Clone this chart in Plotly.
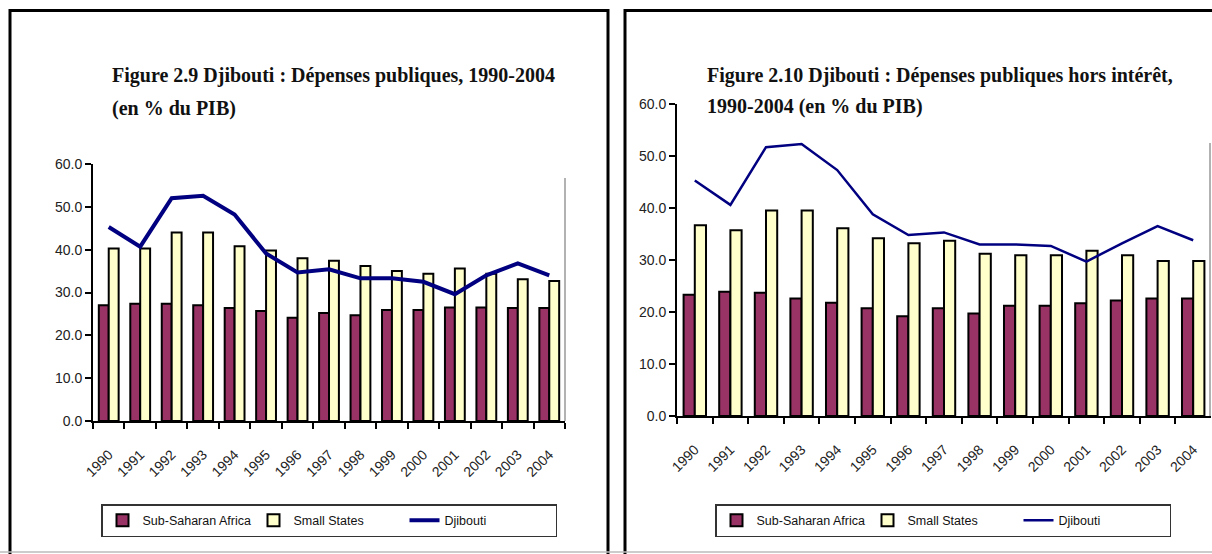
import plotly.graph_objects as go

years = [str(y) for y in range(1990, 2005)]

# Figure 2.9 : total public expenditure (% of GDP)
ssa_total = [27.0, 27.4, 27.4, 27.0, 26.4, 25.7, 24.1, 25.2, 24.7, 25.9, 25.9, 26.5, 26.5, 26.4, 26.4]
ss_total = [40.3, 40.3, 44.0, 44.0, 40.8, 39.8, 38.0, 37.4, 36.2, 35.0, 34.4, 35.6, 34.4, 33.1, 32.7]
dj_total = [45.3, 40.7, 52.0, 52.6, 48.2, 39.1, 34.7, 35.4, 33.3, 33.3, 32.5, 29.6, 34.0, 36.8, 34.0]

# Figure 2.10 : non-interest public expenditure (% of GDP)
ssa_nonint = [23.3, 23.9, 23.7, 22.6, 21.8, 20.7, 19.2, 20.7, 19.7, 21.2, 21.2, 21.7, 22.2, 22.6, 22.6]
ss_nonint = [36.7, 35.7, 39.5, 39.5, 36.1, 34.2, 33.2, 33.7, 31.2, 30.9, 30.9, 31.8, 30.9, 29.8, 29.8]
dj_nonint = [45.3, 40.6, 51.7, 52.3, 47.3, 38.8, 34.8, 35.3, 33.0, 33.0, 32.7, 29.7, 33.2, 36.5, 33.8]

yticks = [0, 10, 20, 30, 40, 50, 60]

W, H = 1212, 554
NARROW = "Liberation Sans Narrow, Arial Narrow, Liberation Sans, Arial, sans-serif"
SERIF = "Liberation Serif, Times New Roman, serif"
MAROON = "#993366"
CREAM = "#FFFFCC"
NAVY = "#000080"

def px(x):
    return x / W

def py(y):
    return 1 - y / H

fig = go.Figure()

def add_panel(ssa, ss, dj, xa, ya, leg, lw):
    fig.add_trace(go.Bar(x=years, y=ssa, name="Sub-Saharan Africa", xaxis=xa, yaxis=ya,
                         marker=dict(color=MAROON, line=dict(color="black", width=2)),
                         legend=leg))
    fig.add_trace(go.Bar(x=years, y=ss, name="Small States", xaxis=xa, yaxis=ya,
                         marker=dict(color=CREAM, line=dict(color="black", width=2)),
                         legend=leg))
    fig.add_trace(go.Scatter(x=years, y=dj, name="Djibouti", mode="lines", xaxis=xa, yaxis=ya,
                             line=dict(color=NAVY, width=lw), legend=leg))

add_panel(ssa_total, ss_total, dj_total, "x", "y", "legend", 4)
add_panel(ssa_nonint, ss_nonint, dj_nonint, "x2", "y2", "legend2", 2.5)

xcommon = dict(type="category", tickson="boundaries", ticks="outside", ticklen=6,
               tickcolor="black", tickwidth=1.5, showline=True, linecolor="black",
               linewidth=2, tickangle=-45, ticklabelstandoff=18, automargin=False,
               tickfont=dict(family=NARROW, size=14, color="#222"), showgrid=False)
ycommon = dict(range=[0, 60], tickvals=yticks, tickformat=".1f", ticks="outside",
               ticklen=6, tickcolor="black", tickwidth=1.5, showline=True, automargin=False,
               linecolor="black", linewidth=2, showgrid=False, zeroline=False,
               tickfont=dict(family=NARROW, size=14, color="#222"))

legcommon = dict(orientation="h", bordercolor="#333", borderwidth=1.5, bgcolor="white",
                 font=dict(family=NARROW, size=12.5, color="#111"), xanchor="center",
                 yanchor="top", entrywidth=106, entrywidthmode="pixels", itemwidth=30,
                 traceorder="normal")

fig.update_layout(
    width=W, height=H, autosize=False,
    margin=dict(l=0, r=0, t=0, b=0, autoexpand=False),
    paper_bgcolor="white", plot_bgcolor="white",
    barmode="group", bargap=0.37, bargroupgap=0,
    xaxis=dict(domain=[px(93), px(565)], anchor="y", **xcommon),
    yaxis=dict(domain=[py(421), py(164)], anchor="x", **ycommon),
    xaxis2=dict(domain=[px(677), px(1211)], anchor="y2", **xcommon),
    yaxis2=dict(domain=[py(416), py(104)], anchor="x2", **ycommon),
    legend=dict(x=px(329), y=py(504), **legcommon),
    legend2=dict(x=px(943), y=py(504), **legcommon),
    showlegend=True,
)

# titles
title_font = dict(family=SERIF, size=20, color="#111")
for txt, x, y in [
    ("<b>Figure 2.9 Djibouti : Dépenses publiques, 1990-2004</b>", 110, 75),
    ("<b>(en % du PIB)</b>", 110, 108),
    ("<b>Figure 2.10 Djibouti : Dépenses publiques hors intérêt,</b>", 705, 75),
    ("<b>1990-2004 (en % du PIB)</b>", 705, 106),
]:
    fig.add_annotation(text=txt, x=px(x), y=py(y), xref="paper", yref="paper",
                       xanchor="left", yanchor="middle", showarrow=False, font=title_font)

# panel frames and decorations
shapes = [
    dict(type="path", path=f"M {px(10)} {py(600)} L {px(10)} {py(10.5)} L {px(608)} {py(10.5)} L {px(608)} {py(600)}",
         xref="paper", yref="paper", line=dict(color="black", width=3)),
    dict(type="path", path=f"M {px(625)} {py(600)} L {px(625)} {py(10.5)} L {px(1230)} {py(10.5)}",
         xref="paper", yref="paper", line=dict(color="black", width=3)),
    dict(type="line", x0=0, x1=1, y0=py(552), y1=py(552), xref="paper", yref="paper",
         line=dict(color="#BBBBBB", width=1.5)),
    dict(type="line", x0=px(565), x1=px(565), y0=py(178), y1=py(421), xref="paper", yref="paper",
         line=dict(color="#999999", width=1.5)),
    dict(type="line", x0=px(1210), x1=px(1210), y0=py(143), y1=py(416), xref="paper", yref="paper",
         line=dict(color="#999999", width=1.5)),
]
fig.update_layout(shapes=shapes)

fig.write_html("out.html", config={"displayModeBar": False},
               post_script="document.body.style.margin='0';document.body.style.overflow='hidden';")
